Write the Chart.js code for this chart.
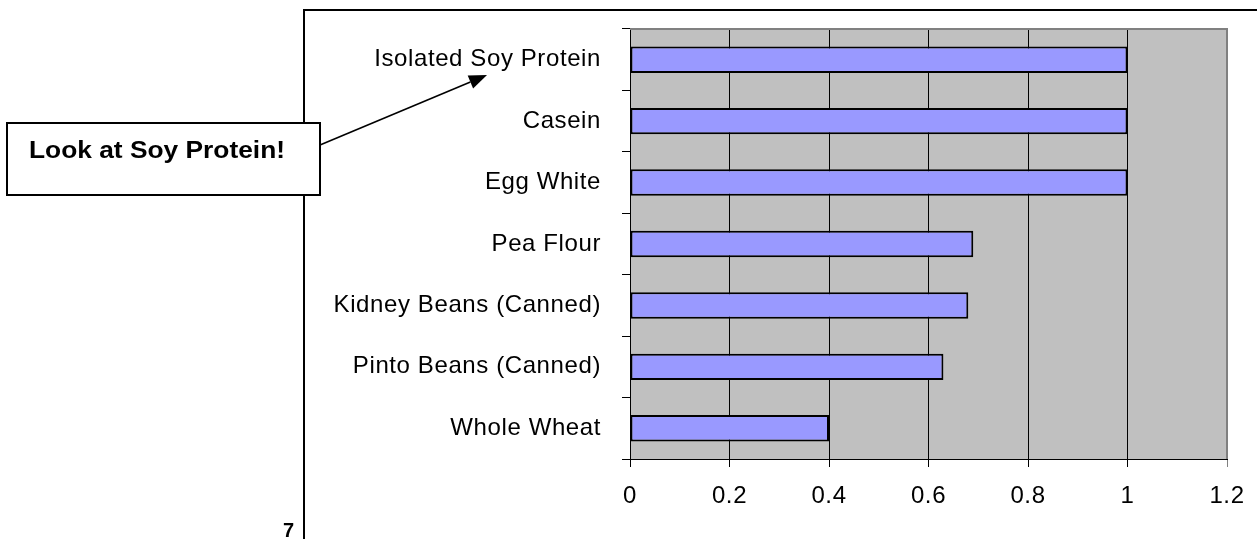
<!DOCTYPE html>
<html>
<head>
<meta charset="utf-8">
<title>Protein scores</title>
<script src="https://cdn.jsdelivr.net/npm/chart.js@4.4.1/dist/chart.umd.min.js"></script>
<style>
  html, body { margin: 0; padding: 0; background: #fff; }
  #wrap { position: relative; width: 1257px; height: 539px; }
</style>
</head>
<body>
<div id="wrap"><canvas id="chart"></canvas></div>
<script>
  // values
  const categories = [
    "Isolated Soy Protein",
    "Casein",
    "Egg White",
    "Pea Flour",
    "Kidney Beans (Canned)",
    "Pinto Beans (Canned)",
    "Whole Wheat",
  ];
  const scores = [1, 1, 1, 0.69, 0.68, 0.63, 0.40];
  const xTickLabels = ["0", "0.2", "0.4", "0.6", "0.8", "1", "1.2"];
  const calloutText = "Look at Soy Protein!";
  const pageNumber = "7";

  const FONT = "'Liberation Sans', Arial, Helvetica, sans-serif";

  // slide decorations: plot fill, frame, callout box with arrow, page number
  const slideDecor = {
    id: "slideDecor",
    beforeDraw(chart) {
      const { ctx, chartArea: a } = chart;
      ctx.save();
      ctx.fillStyle = "#c0c0c0";
      ctx.fillRect(a.left, a.top, a.right - a.left, a.bottom - a.top);
      ctx.restore();
      // the slide's axis text runs a little wide
      ctx.letterSpacing = "0.6px";
    },
    afterDraw(chart) {
      const { ctx, chartArea: a } = chart;
      ctx.letterSpacing = "0px";
      ctx.save();

      // plot border top/right (grey)
      ctx.strokeStyle = "#808080";
      ctx.lineWidth = 2;
      ctx.beginPath();
      ctx.moveTo(a.left, a.top);
      ctx.lineTo(a.right, a.top);
      ctx.lineTo(a.right, a.bottom);
      ctx.stroke();

      // slide frame
      ctx.strokeStyle = "#000";
      ctx.lineWidth = 2;
      ctx.beginPath();
      ctx.moveTo(304, 539);
      ctx.lineTo(304, 10);
      ctx.lineTo(1257, 10);
      ctx.stroke();

      // arrow
      const x0 = 320, y0 = 145, x1 = 487, y1 = 75;
      const ang = Math.atan2(y1 - y0, x1 - x0);
      const hl = 18, hw = 7;
      const bx = x1 - hl * Math.cos(ang), by = y1 - hl * Math.sin(ang);
      ctx.lineWidth = 1.6;
      ctx.beginPath();
      ctx.moveTo(x0, y0);
      ctx.lineTo(bx, by);
      ctx.stroke();
      ctx.fillStyle = "#000";
      ctx.beginPath();
      ctx.moveTo(x1, y1);
      ctx.lineTo(bx + hw * Math.sin(ang), by - hw * Math.cos(ang));
      ctx.lineTo(bx - hw * Math.sin(ang), by + hw * Math.cos(ang));
      ctx.closePath();
      ctx.fill();

      // callout box
      ctx.fillStyle = "#fff";
      ctx.fillRect(7, 123, 313, 72);
      ctx.lineWidth = 2;
      ctx.strokeRect(7, 123, 313, 72);
      ctx.fillStyle = "#000";
      ctx.font = "bold 23px " + FONT;
      ctx.textBaseline = "alphabetic";
      const w = ctx.measureText(calloutText).width;
      ctx.translate(29, 158);
      ctx.scale(256 / w, 1);
      ctx.fillText(calloutText, 0, 0);
      ctx.setTransform(1, 0, 0, 1, 0, 0);

      // page number
      ctx.font = "bold 20px " + FONT;
      ctx.textAlign = "right";
      ctx.fillText(pageNumber, 294, 537);

      ctx.restore();
    },
  };

  new Chart(document.getElementById("chart"), {
    type: "bar",
    data: {
      labels: categories,
      datasets: [
        {
          data: scores,
          backgroundColor: "#9999ff",
          borderColor: "#000",
          borderWidth: 2,
          borderSkipped: false,
          categoryPercentage: 1,
          barPercentage: 0.43,
        },
      ],
    },
    options: {
      indexAxis: "y",
      responsive: true,
      maintainAspectRatio: false,
      animation: false,
      layout: { padding: { top: 29, right: 30, left: 0, bottom: 0 } },
      plugins: { legend: { display: false }, tooltip: { enabled: false } },
      scales: {
        x: {
          min: 0,
          max: 1.2,
          ticks: {
            stepSize: 0.2,
            color: "#000",
            padding: 15,
            font: { family: FONT, size: 24 },
            callback: (v, i) => xTickLabels[i],
          },
          grid: {
            color: (c) => (c.index === xTickLabels.length - 1 ? "#808080" : "#000"),
            lineWidth: 1,
            tickLength: 8,
          },
          border: { display: true, color: "#000", width: 1 },
          afterFit: (s) => {
            s.height = 80;
            s.paddingLeft = 0;
            s.paddingRight = 0;
          },
        },
        y: {
          ticks: {
            color: "#000",
            padding: 21,
            font: { family: FONT, size: 24 },
          },
          grid: {
            drawOnChartArea: false,
            color: "#000",
            tickLength: 8,
            offset: true,
          },
          border: { display: true, color: "#000", width: 1 },
          afterFit: (s) => {
            s.width = 630;
            s.paddingTop = 0;
            s.paddingBottom = 0;
          },
        },
      },
    },
    plugins: [slideDecor],
  });
</script>
</body>
</html>
